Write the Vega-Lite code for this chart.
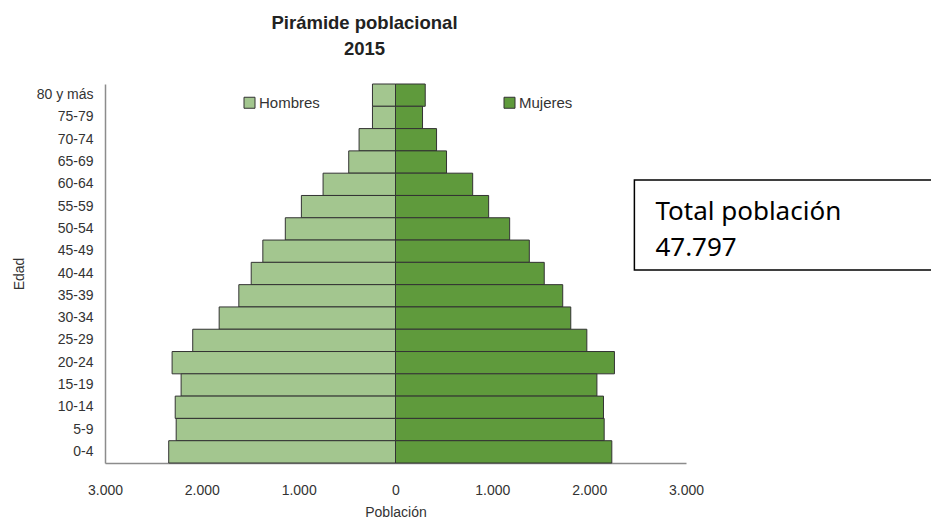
{
  "$schema": "https://vega.github.io/schema/vega-lite/v6.json",
  "width": 581,
  "height": 379,
  "autosize": "none",
  "padding": {"left": 105, "top": 84, "right": 245, "bottom": 57},
  "background": "white",
  "title": {
    "text": ["Pirámide poblacional", "2015"],
    "anchor": "middle",
    "dx": -31,
    "offset": 25,
    "font": "Liberation Sans",
    "fontSize": 18.5,
    "fontWeight": "bold",
    "color": "#222222",
    "lineHeight": 26
  },
  "config": {"view": {"stroke": null}, "font": "Liberation Sans"},
  "layer": [
    {
      "data": {
        "values": [
          {"edad": "80 y más", "sexo": "Hombres", "poblacion": -238},
          {"edad": "75-79", "sexo": "Hombres", "poblacion": -238},
          {"edad": "70-74", "sexo": "Hombres", "poblacion": -376},
          {"edad": "65-69", "sexo": "Hombres", "poblacion": -483},
          {"edad": "60-64", "sexo": "Hombres", "poblacion": -748},
          {"edad": "55-59", "sexo": "Hombres", "poblacion": -972},
          {"edad": "50-54", "sexo": "Hombres", "poblacion": -1138},
          {"edad": "45-49", "sexo": "Hombres", "poblacion": -1370},
          {"edad": "40-44", "sexo": "Hombres", "poblacion": -1490},
          {"edad": "35-39", "sexo": "Hombres", "poblacion": -1618},
          {"edad": "30-34", "sexo": "Hombres", "poblacion": -1821},
          {"edad": "25-29", "sexo": "Hombres", "poblacion": -2094},
          {"edad": "20-24", "sexo": "Hombres", "poblacion": -2307},
          {"edad": "15-19", "sexo": "Hombres", "poblacion": -2214},
          {"edad": "10-14", "sexo": "Hombres", "poblacion": -2275},
          {"edad": "5-9", "sexo": "Hombres", "poblacion": -2265},
          {"edad": "0-4", "sexo": "Hombres", "poblacion": -2342},
          {"edad": "80 y más", "sexo": "Mujeres", "poblacion": 307},
          {"edad": "75-79", "sexo": "Mujeres", "poblacion": 279},
          {"edad": "70-74", "sexo": "Mujeres", "poblacion": 424},
          {"edad": "65-69", "sexo": "Mujeres", "poblacion": 527},
          {"edad": "60-64", "sexo": "Mujeres", "poblacion": 797},
          {"edad": "55-59", "sexo": "Mujeres", "poblacion": 962},
          {"edad": "50-54", "sexo": "Mujeres", "poblacion": 1179},
          {"edad": "45-49", "sexo": "Mujeres", "poblacion": 1382},
          {"edad": "40-44", "sexo": "Mujeres", "poblacion": 1536},
          {"edad": "35-39", "sexo": "Mujeres", "poblacion": 1727},
          {"edad": "30-34", "sexo": "Mujeres", "poblacion": 1810},
          {"edad": "25-29", "sexo": "Mujeres", "poblacion": 1976},
          {"edad": "20-24", "sexo": "Mujeres", "poblacion": 2261},
          {"edad": "15-19", "sexo": "Mujeres", "poblacion": 2080},
          {"edad": "10-14", "sexo": "Mujeres", "poblacion": 2148},
          {"edad": "5-9", "sexo": "Mujeres", "poblacion": 2155},
          {"edad": "0-4", "sexo": "Mujeres", "poblacion": 2234}
        ]
      },
      "mark": {"type": "bar", "stroke": "#333333", "strokeWidth": 1},
      "encoding": {
        "y": {
          "field": "edad",
          "type": "nominal",
          "sort": ["80 y más", "75-79", "70-74", "65-69", "60-64", "55-59", "50-54", "45-49", "40-44", "35-39", "30-34", "25-29", "20-24", "15-19", "10-14", "5-9", "0-4"],
          "scale": {"paddingInner": 0, "paddingOuter": 0},
          "axis": {
            "title": "Edad",
            "ticks": false,
            "labelPadding": 12,
            "labelFontSize": 14,
            "labelColor": "#333333",
            "titleFontSize": 14,
            "titleFontWeight": "normal",
            "titleColor": "#333333",
            "titlePadding": 10,
            "domainColor": "#8c8c8c",
            "domainWidth": 1.5
          }
        },
        "x": {
          "field": "poblacion",
          "type": "quantitative",
          "stack": null,
          "scale": {"domain": [-3000, 3000], "nice": false},
          "axis": {
            "title": "Población",
            "values": [-3000, -2000, -1000, 0, 1000, 2000, 3000],
            "labelExpr": "replace(format(abs(datum.value), ','), ',', '.')",
            "ticks": false,
            "grid": false,
            "labelFlush": false,
            "labelOverlap": false,
            "labelPadding": 20,
            "labelFontSize": 14,
            "labelColor": "#333333",
            "titleFontSize": 14,
            "titleFontWeight": "normal",
            "titleColor": "#333333",
            "titlePadding": 8,
            "domainColor": "#8c8c8c",
            "domainWidth": 1.5
          }
        },
        "color": {
          "field": "sexo",
          "type": "nominal",
          "scale": {"domain": ["Hombres", "Mujeres"], "range": ["#a3c68f", "#5f9a3c"]},
          "legend": {
            "orient": "none",
            "legendX": 137,
            "legendY": 11,
            "direction": "horizontal",
            "title": null,
            "symbolType": "square",
            "symbolSize": 121,
            "symbolStrokeColor": "#333333",
            "symbolStrokeWidth": 1,
            "labelFontSize": 15,
            "labelColor": "#333333",
            "labelOffset": 2,
            "columnPadding": 182,
            "padding": 0
          }
        }
      }
    },
    {
      "data": {"values": [{"cuadro": "total"}]},
      "mark": {"type": "rect", "fill": "white", "stroke": "black", "strokeWidth": 1.5, "clip": false},
      "encoding": {
        "x": {"datum": 2467, "type": "quantitative"},
        "x2": {"datum": 6000},
        "y": {"datum": 25.3, "type": "quantitative", "scale": {"domain": [0, 100], "reverse": true, "nice": false}, "axis": null},
        "y2": {"datum": 49.1}
      }
    },
    {
      "data": {"values": [{"texto": "Total población\n47.797"}]},
      "mark": {"type": "text", "align": "left", "baseline": "alphabetic", "lineBreak": "\n", "lineHeight": 36, "font": "Noto Sans", "fontSize": 26, "color": "black"},
      "encoding": {
        "text": {"field": "texto"},
        "x": {"datum": 2684, "type": "quantitative"},
        "y": {"datum": 35.9, "type": "quantitative", "scale": {"domain": [0, 100], "reverse": true, "nice": false}, "axis": null}
      }
    }
  ],
  "resolve": {"scale": {"y": "independent"}}
}
